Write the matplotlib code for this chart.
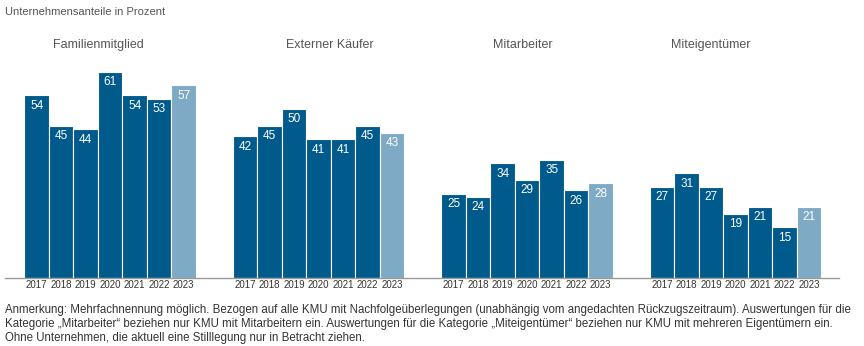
import matplotlib.pyplot as plt

plt.rcParams['font.family'] = ['Liberation Sans', 'DejaVu Sans']

years = ['2017', '2018', '2019', '2020', '2021', '2022', '2023']
groups = ['Familienmitglied', 'Externer Käufer', 'Mitarbeiter', 'Miteigentümer']
familienmitglied = [54, 45, 44, 61, 54, 53, 57]
externer_kaeufer = [42, 45, 50, 41, 41, 45, 43]
mitarbeiter = [25, 24, 34, 29, 35, 26, 28]
miteigentuemer = [27, 31, 27, 19, 21, 15, 21]
series = [familienmitglied, externer_kaeufer, mitarbeiter, miteigentuemer]

dark = '#005a8c'
light = '#7eaac6'
grey_text = '#555555'

W, H = 864, 346
fig = plt.figure(figsize=(W / 100, H / 100), dpi=100)

# axes placed in pixel terms: baseline at y=278, 3.38 px per percent
scale = 3.38
ytop = 66
ax = fig.add_axes([5 / W, (H - 278) / H, 834 / W, ytop * scale / H])
ax.set_xlim(5, 839)
ax.set_ylim(0, ytop)

bar_w = 24.5
group_step = 208.5
start = 24.5
title_x = [98, 330, 523, 711]

for g, vals in enumerate(series):
    for i, v in enumerate(vals):
        x = start + g * group_step + i * bar_w
        c = light if i == len(vals) - 1 else dark
        ax.bar(x, v, width=bar_w, align='edge', color=c, edgecolor='white', linewidth=0.8)
        ax.text(x + bar_w / 2, v - 3.1, str(v), ha='center', va='center',
                color='white', fontsize=8.5)
        ax.text(x + bar_w / 2, -2.2, years[i], ha='center', va='center',
                color='#333333', fontsize=7, clip_on=False)
    fig.text(title_x[g] / W, 1 - 45 / H, groups[g], ha='center', va='center',
             fontsize=9, color=grey_text)

for s in ['top', 'right', 'left']:
    ax.spines[s].set_visible(False)
ax.spines['bottom'].set_color('#999999')
ax.spines['bottom'].set_linewidth(1)
ax.set_xticks([])
ax.set_yticks([])

fig.text(5 / W, 1 - 12 / H, 'Unternehmensanteile in Prozent', ha='left', va='center',
         fontsize=8, color=grey_text)

note = ('Anmerkung: Mehrfachnennung möglich. Bezogen auf alle KMU mit Nachfolgeüberlegungen '
        '(unabhängig vom angedachten Rückzugszeitraum). Auswertungen für die\n'
        'Kategorie „Mitarbeiter“ beziehen nur KMU mit Mitarbeitern ein. Auswertungen für die '
        'Kategorie „Miteigentümer“ beziehen nur KMU mit mehreren Eigentümern ein.\n'
        'Ohne Unternehmen, die aktuell eine Stilllegung nur in Betracht ziehen.')
fig.text(5 / W, 1 - 304 / H, note, ha='left', va='top', fontsize=8.3,
         color='#333333', linespacing=1.25)

fig.savefig('out.png', dpi=100)
